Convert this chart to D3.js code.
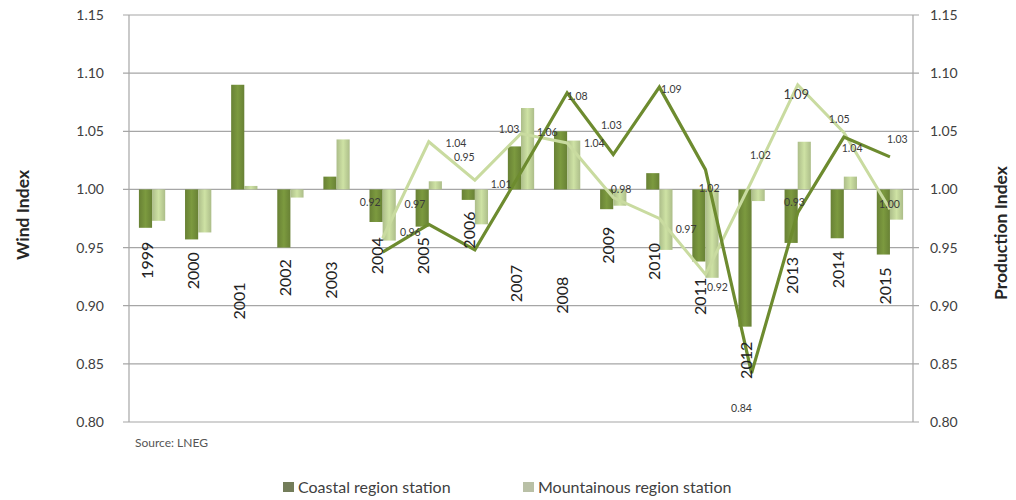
<!DOCTYPE html>
<html>
<head>
<meta charset="utf-8">
<script src="https://cdn.jsdelivr.net/npm/d3@7"></script>
<style>
  html, body { margin: 0; padding: 0; background: #ffffff; }
  svg { display: block; }
  text { font-family: Lato, "Open Sans", "Liberation Sans", sans-serif; }
</style>
</head>
<body>
<svg id="chart" width="1016" height="500"></svg>
<script>
// ---------- data ----------
const years = ["1999","2000","2001","2002","2003","2004","2005","2006","2007","2008","2009","2010","2011","2012","2013","2014","2015"];
const coastalWind =     [0.967, 0.957, 1.090, 0.950, 1.011, 0.972, 0.968, 0.991, 1.037, 1.050, 0.983, 1.014, 0.938, 0.882, 0.954, 0.958, 0.944];
const mountainWind =    [0.973, 0.963, 1.003, 0.993, 1.043, 0.956, 1.007, 0.970, 1.070, 1.042, 0.986, 0.948, 0.924, 0.990, 1.041, 1.011, 0.974];
const coastalProd =     [null, null, null, null, null, 0.946, 0.970, 0.948, 1.015, 1.083, 1.030, 1.088, 1.017, 0.842, 0.980, 1.045, 1.028];
const mountainProd =    [null, null, null, null, null, 0.958, 1.041, 1.008, 1.048, 1.040, 0.993, 0.975, 0.927, 1.007, 1.090, 1.049, 0.983];
// where the rotated year labels end (top), in index units
const yearLabelAt =     [0.955, 0.946, 0.920, 0.940, 0.938, 0.959, 0.959, 0.981, 0.935, 0.925, 0.968, 0.954, 0.924, 0.869, 0.942, 0.947, 0.933];
const yTicks = [0.80, 0.85, 0.90, 0.95, 1.00, 1.05, 1.10, 1.15];
// data labels as printed in the chart (text, year position, index value)
const labelTexts = ["0.92","0.97","0.96","1.04","0.95","1.03","1.01","1.06","1.08","1.04","1.03","0.98","1.09","0.97","1.02","0.92","0.84","1.02","1.09","1.05","0.93","1.04","1.03","1.00"];
const labelYears = [2003.73,2004.70,2004.60,2005.59,2005.77,2006.74,2006.57,2007.57,2008.22,2008.59,2008.96,2009.17,2010.26,2010.58,2011.08,2011.26,2011.78,2012.19,2012.97,2013.90,2012.93,2014.18,2015.16,2014.99];
const labelAt =    [0.989,0.987,0.963,1.040,1.028,1.052,1.004,1.049,1.080,1.040,1.055,1.000,1.086,0.966,1.001,0.916,0.812,1.029,1.082,1.060,0.989,1.035,1.043,0.987];
const seriesNames = ["Coastal region station", "Mountainous region station"];

// ---------- layout ----------
const svg = d3.select("#chart");
const pLeft = 129, pRight = 913, pTop = 15, pBottom = 422;
const x = d3.scaleBand().domain(years).range([pLeft, pRight]).padding(0);
const y = d3.scaleLinear().domain([0.80, 1.15]).range([pBottom, pTop]);
const yR = d3.scaleLinear().domain([0.80, 1.15]).range([pBottom, pTop]);
const xc = d => x(d) + x.bandwidth() / 2;
const xYear = d3.scaleLinear().domain([1999, 2015]).range([xc("1999"), xc("2015")]);

const cDark = "#76923c", cLight = "#c3d69b";

// gridlines
svg.append("g").selectAll("line").data(yTicks).join("line")
  .attr("x1", pLeft - 6).attr("x2", pRight + 6)
  .attr("y1", d => y(d)).attr("y2", d => y(d))
  .attr("stroke", "#a6a6a6").attr("stroke-width", 1.2);

// axis lines
svg.append("line").attr("x1", pLeft).attr("x2", pLeft).attr("y1", pTop).attr("y2", pBottom)
  .attr("stroke", "#a6a6a6").attr("stroke-width", 1.2);
svg.append("line").attr("x1", pRight).attr("x2", pRight).attr("y1", pTop).attr("y2", pBottom)
  .attr("stroke", "#a6a6a6").attr("stroke-width", 1.2);

// axes tick labels
const yAxisL = d3.axisLeft(y).tickValues(yTicks).tickFormat(d3.format(".2f")).tickSize(0).tickPadding(25);
const gL = svg.append("g").attr("transform", `translate(${pLeft},0)`).call(yAxisL);
gL.select(".domain").remove();
gL.selectAll("text").attr("fill", "#404040").style("font-size", "14px");
const yAxisR = d3.axisRight(yR).tickValues(yTicks).tickFormat(d3.format(".2f")).tickSize(0).tickPadding(17);
const gR = svg.append("g").attr("transform", `translate(${pRight},0)`).call(yAxisR);
gR.select(".domain").remove();
gR.selectAll("text").attr("fill", "#404040").style("font-size", "14px");

// gradients for bars
const defs = svg.append("defs");
function grad(id, c) {
  const g = defs.append("linearGradient").attr("id", id).attr("x1", "0").attr("x2", "1").attr("y1", "0").attr("y2", "0");
  g.append("stop").attr("offset", "0%").attr("stop-color", d3.color(c).darker(0.35));
  g.append("stop").attr("offset", "50%").attr("stop-color", d3.color(c).brighter(0.15));
  g.append("stop").attr("offset", "100%").attr("stop-color", d3.color(c).darker(0.35));
}
grad("gDark", cDark);
grad("gLight", cLight);

const bw = x.bandwidth() * 0.285;
const base = y(1.0);
const barData = years.map((yr, i) => ({ yr, c: coastalWind[i], m: mountainWind[i] }));
svg.append("g").selectAll("rect").data(barData).join("rect")
  .attr("x", d => xc(d.yr) - bw)
  .attr("width", bw)
  .attr("y", d => Math.min(y(d.c), base))
  .attr("height", d => Math.abs(y(d.c) - base))
  .attr("fill", "url(#gDark)");
svg.append("g").selectAll("rect").data(barData).join("rect")
  .attr("x", d => xc(d.yr))
  .attr("width", bw)
  .attr("y", d => Math.min(y(d.m), base))
  .attr("height", d => Math.abs(y(d.m) - base))
  .attr("fill", "url(#gLight)");

// lines
const lineGen = d3.line().defined(d => d.v !== null).x(d => xc(d.yr)).y(d => yR(d.v));
svg.append("path")
  .datum(years.map((yr, i) => ({ yr, v: mountainProd[i] })))
  .attr("d", lineGen).attr("fill", "none")
  .attr("stroke", "#c9dba0").attr("stroke-width", 3).attr("stroke-linejoin", "miter");
svg.append("path")
  .datum(years.map((yr, i) => ({ yr, v: coastalProd[i] })))
  .attr("d", lineGen).attr("fill", "none")
  .attr("stroke", "#6d8b2f").attr("stroke-width", 3.2).attr("stroke-linejoin", "miter");

// data labels
svg.append("g").selectAll("text").data(labelTexts).join("text")
  .attr("x", (d, i) => xYear(labelYears[i]))
  .attr("y", (d, i) => yR(labelAt[i]))
  .attr("dy", "0.35em")
  .attr("text-anchor", "middle")
  .attr("fill", "#3a3a3a")
  .style("font-size", (d, i) => i === 18 ? "13px" : "10.5px")
  .text(d => d);

// year labels (rotated)
svg.append("g").selectAll("text").data(years).join("text")
  .attr("transform", (d, i) => `translate(${xc(d) - 5},${y(yearLabelAt[i])}) rotate(-90)`)
  .attr("text-anchor", "end")
  .attr("dy", "0.35em")
  .attr("fill", "#222")
  .style("font-size", "16px")
  .text(d => d);

// axis titles
svg.append("text")
  .attr("transform", `translate(23,215) rotate(-90)`)
  .attr("text-anchor", "middle").attr("dy", "0.35em")
  .attr("fill", "#262626").style("font-size", "17.5px").style("font-weight", "bold")
  .text("Wind Index");
svg.append("text")
  .attr("transform", `translate(1001,233) rotate(-90)`)
  .attr("text-anchor", "middle").attr("dy", "0.35em")
  .attr("fill", "#262626").style("font-size", "17.5px").style("font-weight", "bold")
  .text("Production Index");

// source
svg.append("text").attr("x", 135).attr("y", 447)
  .attr("fill", "#555").style("font-size", "12px").text("Source: LNEG");

// legend
const legendX = [283, 523];
const legendColors = ["#737d5a", "#b9c0a6"];
const lg = svg.append("g").selectAll("g").data(seriesNames).join("g")
  .attr("transform", (d, i) => `translate(${legendX[i]},487)`);
lg.append("rect").attr("x", 0).attr("y", -5).attr("width", 11).attr("height", 10)
  .attr("fill", (d, i) => legendColors[i]);
lg.append("text").attr("x", 15).attr("dy", "0.35em")
  .attr("fill", "#404040").style("font-size", "16px").text(d => d);
</script>
</body>
</html>
